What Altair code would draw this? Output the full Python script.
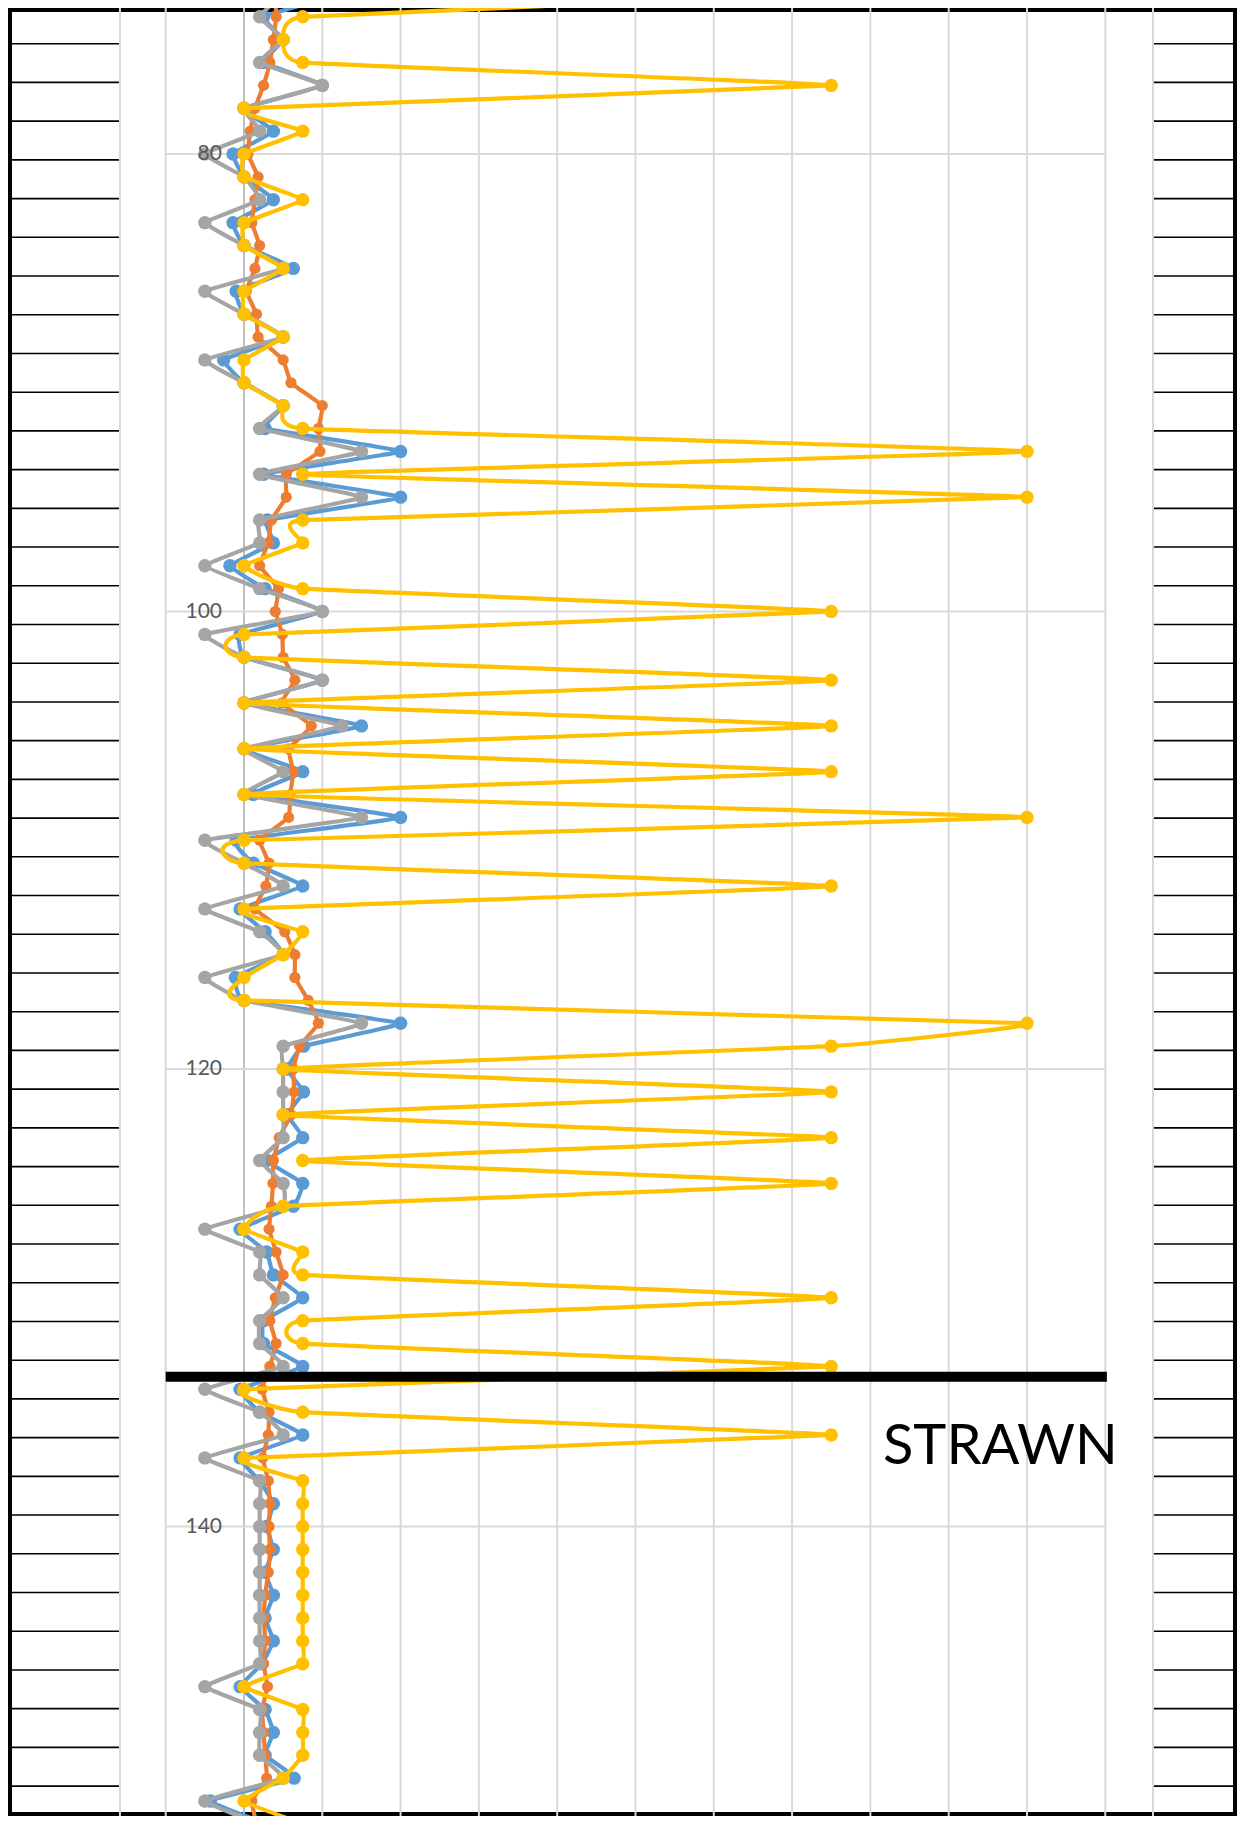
import altair as alt
import pandas as pd

# ---------------- data ----------------
DEPTHS = list(range(73, 154))

BLUE = [1.25, 0.25, 0.5, 0.25, 1.0, 0.0, 0.375, -0.14, 0.0, 0.375,
        -0.14, 0.0, 0.63, -0.1, 0.0, 0.5, -0.26, 0.0, 0.5, 0.27,
        2.0, 0.25, 2.0, 0.3, 0.375, -0.18, 0.27, 1.0, -0.05, 0.0,
        1.0, 0.0, 1.5, 0.0, 0.75, 0.12, 2.0, -0.1, 0.12, 0.75,
        -0.05, 0.27, 0.5, -0.11, 0.0, 2.0, 0.76, 0.55, 0.76, 0.55,
        0.75, 0.29, 0.75, 0.63, -0.05, 0.29, 0.375, 0.75, 0.25, 0.25,
        0.75, -0.05, 0.2, 0.75, -0.05, 0.2, 0.375, 0.29, 0.375, 0.27,
        0.375, 0.27, 0.375, 0.23, -0.05, 0.27, 0.375, 0.27, 0.64, -0.43,
        0.29]

ORANGE = [0.4, 0.41, 0.375, 0.33, 0.25, 0.14, 0.08, 0.05, 0.18, 0.14,
          0.1, 0.2, 0.14, 0.03, 0.16, 0.18, 0.5, 0.6, 1.0, 0.95,
          0.97, 0.54, 0.54, 0.35, 0.31, 0.2, 0.44, 0.4, 0.49, 0.5,
          0.65, 0.48, 0.86, 0.57, 0.63, 0.59, 0.57, 0.2, 0.32, 0.28,
          0.14, 0.52, 0.65, 0.65, 0.82, 0.95, 0.71, 0.63, 0.64, 0.6,
          0.45, 0.375, 0.37, 0.35, 0.32, 0.41, 0.5, 0.4, 0.33, 0.41,
          0.33, 0.23, 0.32, 0.31, 0.24, 0.31, 0.33, 0.32, 0.33, 0.31,
          0.27, 0.255, 0.27, 0.25, 0.3, 0.23, 0.25, 0.27, 0.29, 0.1,
          0.16]

GRAY = [0.5, 0.2, 0.5, 0.2, 1.0, 0.0, 0.2, -0.5, 0.0, 0.2,
        -0.5, 0.0, 0.5, -0.5, 0.0, 0.5, -0.5, 0.0, 0.5, 0.2,
        1.5, 0.2, 1.5, 0.2, 0.2, -0.5, 0.2, 1.0, -0.5, 0.0,
        1.0, 0.0, 1.25, 0.0, 0.5, 0.0, 1.5, -0.5, 0.0, 0.5,
        -0.5, 0.2, 0.5, -0.5, 0.0, 1.5, 0.5, 0.5, 0.5, 0.5,
        0.5, 0.2, 0.5, 0.5, -0.5, 0.2, 0.2, 0.5, 0.2, 0.2,
        0.5, -0.5, 0.2, 0.5, -0.5, 0.2, 0.2, 0.2, 0.2, 0.2,
        0.2, 0.2, 0.2, 0.2, -0.5, 0.2, 0.2, 0.2, 0.5, -0.5,
        0.2]

YELLOW = [7.5, 0.75, 0.5, 0.75, 7.5, 0.0, 0.75, 0.0, 0.0, 0.75,
          0.0, 0.0, 0.5, 0.0, 0.0, 0.5, 0.0, 0.0, 0.5, 0.75,
          10, 0.75, 10, 0.75, 0.75, 0.0, 0.75, 7.5, 0.0, 0.0,
          7.5, 0.0, 7.5, 0.0, 7.5, 0.0, 10, 0.0, 0.0, 7.5,
          0.0, 0.75, 0.5, 0.0, 0.0, 10, 7.5, 0.5, 7.5, 0.5,
          7.5, 0.75, 7.5, 0.5, 0.0, 0.75, 0.75, 7.5, 0.75, 0.75,
          7.5, 0.0, 0.75, 7.5, 0.0, 0.75, 0.75, 0.75, 0.75, 0.75,
          0.75, 0.75, 0.75, 0.75, 0.0, 0.75, 0.75, 0.75, 0.5, 0.0,
          0.75]

DEPTH_LABELS = [80, 100, 120, 140]
X_GRID = list(range(-1, 12))
PANEL_ROWS = list(range(0, 46))
FORMATION = ["STRAWN"]
FORMATION_TOP = [133.45]

# ---------------- scales / layout ----------------
W, H = 1229, 1808
X_DOMAIN = [-3.014, 12.682]
Y_DOMAIN = [73.616, 73.616 + H / 22.875]
ROW_DOMAIN = [-0.922, -0.922 + H / 38.72]
PANEL_EDGES = [-1.584, 11.609]
AXIS_CROSS = 0  # the depth axis crosses the value axis at 0

xs = alt.Scale(domain=X_DOMAIN, nice=False, zero=False)
ys = alt.Scale(domain=Y_DOMAIN, nice=False, zero=False, reverse=True)
rs = alt.Scale(domain=ROW_DOMAIN, nice=False, zero=False, reverse=True)

# vertical grid lines
vgrid_df = pd.DataFrame({"x": X_GRID, "kind": ["axis" if v == AXIS_CROSS else "grid" for v in X_GRID]})
vgrid = alt.Chart(vgrid_df).mark_rule(strokeWidth=2).encode(
    x=alt.X("x:Q", scale=xs, axis=None),
    color=alt.Color("kind:N", scale=alt.Scale(domain=["grid", "axis"], range=["#D9D9D9", "#BFBFBF"]), legend=None),
)

# horizontal grid lines
hgrid_df = pd.DataFrame({"depth": DEPTH_LABELS, "x0": X_GRID[0], "x1": X_GRID[-1]})
hgrid = alt.Chart(hgrid_df).mark_rule(color="#D9D9D9", strokeWidth=2).encode(
    y=alt.Y("depth:Q", scale=ys, axis=None),
    x=alt.X("x0:Q", scale=xs, axis=None),
    x2="x1:Q",
)

# depth labels, right-aligned next to the axis crossing
lab_df = pd.DataFrame({"depth": DEPTH_LABELS, "x": AXIS_CROSS, "txt": [str(v) for v in DEPTH_LABELS]})
depth_labels = alt.Chart(lab_df).mark_text(
    font="Lato", fontSize=21, color="#595959", align="right", baseline="middle", dx=-22).encode(
    y=alt.Y("depth:Q", scale=ys, axis=None),
    x=alt.X("x:Q", scale=xs, axis=None),
    text="txt:N",
)

# panel side lines
panel_v = alt.Chart(pd.DataFrame({"x": PANEL_EDGES})).mark_rule(color="#D9D9D9", strokeWidth=2).encode(
    x=alt.X("x:Q", scale=xs, axis=None)
)

rows_df = pd.DataFrame(
    [{"row": r, "x0": a, "x1": b}
     for r in PANEL_ROWS
     for (a, b) in [(X_DOMAIN[0], PANEL_EDGES[0]), (PANEL_EDGES[1], X_DOMAIN[1])]]
)
rows = alt.Chart(rows_df).mark_rule(color="black", strokeWidth=1.6).encode(
    y=alt.Y("row:Q", scale=rs, axis=None),
    x=alt.X("x0:Q", scale=xs, axis=None),
    x2="x1:Q",
)

series_layers = []
for vals, color, size in [(BLUE, "#5B9BD5", 180), (ORANGE, "#ED7D31", 125),
                          (GRAY, "#A5A5A5", 180), (YELLOW, "#FFC000", 180)]:
    df = pd.DataFrame({"depth": DEPTHS, "value": vals})
    enc = dict(x=alt.X("value:Q", scale=xs, axis=None),
               y=alt.Y("depth:Q", scale=ys, axis=None))
    line = alt.Chart(df).mark_line(color=color, strokeWidth=4.2, interpolate="cardinal", tension=0.75,
                                   clip=True).encode(order=alt.Order("depth:Q"), **enc)
    pts = alt.Chart(df).mark_circle(color=color, size=size, opacity=1, clip=True).encode(**enc)
    series_layers += [line, pts]

bar = alt.Chart(pd.DataFrame({"depth": FORMATION_TOP, "x0": [-1.0], "x1": [11.02]})).mark_rule(
    color="black", strokeWidth=10, strokeCap="butt").encode(
    y=alt.Y("depth:Q", scale=ys, axis=None),
    x=alt.X("x0:Q", scale=xs, axis=None),
    x2="x1:Q",
)

label = alt.Chart(pd.DataFrame({"text": FORMATION, "x": [9.66], "depth": [137.27]})).mark_text(
    font="Lato", fontSize=56, color="black", align="center", baseline="alphabetic").encode(
    x=alt.X("x:Q", scale=xs, axis=None),
    y=alt.Y("depth:Q", scale=ys, axis=None),
    text="text:N",
)

main = alt.layer(vgrid, hgrid, panel_v, *series_layers, depth_labels, bar, label)

chart = alt.layer(rows, main).resolve_scale(y="independent").properties(
    width=W, height=H, padding=0, autosize=alt.AutoSizeParams(type="none"),
    background="white",
).configure_view(stroke="black", strokeWidth=8)

chart.save("out.html", embed_options={"renderer": "svg", "actions": False})
